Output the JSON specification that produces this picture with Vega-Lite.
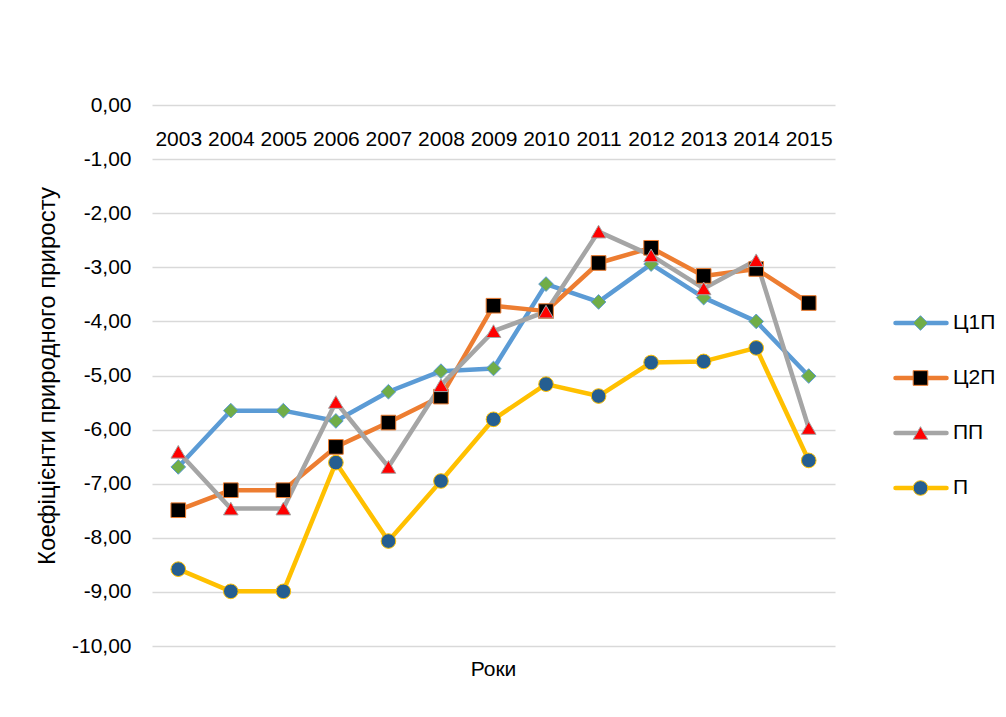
{
  "$schema": "https://vega.github.io/schema/vega-lite/v6.json",
  "autosize": {"type": "none"},
  "padding": {"left": 152, "top": 105, "right": 171, "bottom": 71},
  "width": 683,
  "height": 541,
  "background": "white",
  "config": {
    "view": {"stroke": null},
    "font": "Liberation Sans",
    "axis": {"labelFont": "Liberation Sans", "labelFontSize": 21, "labelColor": "#000000", "titleFont": "Liberation Sans", "titleFontSize": 24, "titleFontWeight": "normal", "titleColor": "#000000"},
    "legend": {"labelFont": "Liberation Sans", "labelFontSize": 21, "labelColor": "#000000"}
  },
  "title": {"text": "Роки", "orient": "bottom", "anchor": "middle", "font": "Liberation Sans", "fontSize": 21, "fontWeight": "normal", "color": "#000000", "offset": 3},
  "data": {
    "values": [
      {"year": "2003", "series": "Ц1П", "value": -6.69},
      {"year": "2004", "series": "Ц1П", "value": -5.65},
      {"year": "2005", "series": "Ц1П", "value": -5.65},
      {"year": "2006", "series": "Ц1П", "value": -5.84},
      {"year": "2007", "series": "Ц1П", "value": -5.30},
      {"year": "2008", "series": "Ц1П", "value": -4.92},
      {"year": "2009", "series": "Ц1П", "value": -4.87},
      {"year": "2010", "series": "Ц1П", "value": -3.31},
      {"year": "2011", "series": "Ц1П", "value": -3.64},
      {"year": "2012", "series": "Ц1П", "value": -2.94},
      {"year": "2013", "series": "Ц1П", "value": -3.56},
      {"year": "2014", "series": "Ц1П", "value": -4.00},
      {"year": "2015", "series": "Ц1П", "value": -5.01},
      {"year": "2003", "series": "Ц2П", "value": -7.49},
      {"year": "2004", "series": "Ц2П", "value": -7.12},
      {"year": "2005", "series": "Ц2П", "value": -7.12},
      {"year": "2006", "series": "Ц2П", "value": -6.32},
      {"year": "2007", "series": "Ц2П", "value": -5.87},
      {"year": "2008", "series": "Ц2П", "value": -5.39},
      {"year": "2009", "series": "Ц2П", "value": -3.71},
      {"year": "2010", "series": "Ц2П", "value": -3.81},
      {"year": "2011", "series": "Ц2П", "value": -2.92},
      {"year": "2012", "series": "Ц2П", "value": -2.64},
      {"year": "2013", "series": "Ц2П", "value": -3.16},
      {"year": "2014", "series": "Ц2П", "value": -3.03},
      {"year": "2015", "series": "Ц2П", "value": -3.66},
      {"year": "2003", "series": "ПП", "value": -6.41},
      {"year": "2004", "series": "ПП", "value": -7.46},
      {"year": "2005", "series": "ПП", "value": -7.46},
      {"year": "2006", "series": "ПП", "value": -5.49},
      {"year": "2007", "series": "ПП", "value": -6.69},
      {"year": "2008", "series": "ПП", "value": -5.18},
      {"year": "2009", "series": "ПП", "value": -4.18},
      {"year": "2010", "series": "ПП", "value": -3.82},
      {"year": "2011", "series": "ПП", "value": -2.34},
      {"year": "2012", "series": "ПП", "value": -2.78},
      {"year": "2013", "series": "ПП", "value": -3.39},
      {"year": "2014", "series": "ПП", "value": -2.87},
      {"year": "2015", "series": "ПП", "value": -5.97},
      {"year": "2003", "series": "П", "value": -8.58},
      {"year": "2004", "series": "П", "value": -8.99},
      {"year": "2005", "series": "П", "value": -8.99},
      {"year": "2006", "series": "П", "value": -6.61},
      {"year": "2007", "series": "П", "value": -8.06},
      {"year": "2008", "series": "П", "value": -6.95},
      {"year": "2009", "series": "П", "value": -5.81},
      {"year": "2010", "series": "П", "value": -5.16},
      {"year": "2011", "series": "П", "value": -5.38},
      {"year": "2012", "series": "П", "value": -4.76},
      {"year": "2013", "series": "П", "value": -4.74},
      {"year": "2014", "series": "П", "value": -4.49},
      {"year": "2015", "series": "П", "value": -6.57}
    ]
  },
  "encoding": {
    "x": {
      "field": "year", "type": "ordinal",
      "scale": {"type": "point", "padding": 0.5},
      "axis": {"orient": "bottom", "offset": -541, "domain": false, "ticks": false, "tickSize": 0, "grid": false, "labelAngle": 0, "labelPadding": 23, "title": null}
    },
    "y": {
      "field": "value", "type": "quantitative",
      "scale": {"domain": [-10, 0], "nice": false, "zero": false},
      "axis": {
        "values": [0, -1, -2, -3, -4, -5, -6, -7, -8, -9, -10],
        "labelExpr": "replace(replace(format(datum.value, '.2f'), '.', ','), '\u2212', '-')",
        "domain": false, "ticks": false, "tickSize": 0, "labelPadding": 21,
        "grid": true, "gridColor": "#d9d9d9", "gridWidth": 1.3,
        "title": "Коефіцієнти природного приросту", "titlePadding": 12
      }
    }
  },
  "layer": [
    {
      "mark": {"type": "line", "strokeWidth": 4.5, "strokeJoin": "round", "strokeCap": "round"},
      "encoding": {
        "color": {
          "field": "series", "type": "nominal", "sort": ["Ц1П", "Ц2П", "ПП", "П"],
          "scale": {"range": ["#5b9bd5", "#ed7d31", "#a5a5a5", "#ffc000"]},
          "legend": {
            "orient": "none", "legendX": 741, "legendY": 190.75, "title": null,
            "symbolType": "stroke", "symbolSize": 2601, "symbolStrokeWidth": 4.5,
            "clipHeight": 54.5, "rowPadding": 0, "padding": 0, "labelOffset": 4,
            "encode": {"symbols": {"update": {"strokeCap": {"value": "round"}}}}
          }
        }
      }
    },
    {
      "mark": {"type": "point", "filled": true, "opacity": 1, "size": 215, "strokeWidth": 1},
      "encoding": {
        "shape": {
          "field": "series", "type": "nominal",
          "scale": {"domain": ["Ц1П", "Ц2П", "ПП", "П"], "range": ["diamond", "square", "triangle-up", "circle"]},
          "legend": {"orient": "none", "legendX": 758, "legendY": 190.75, "title": null, "symbolSize": 215, "symbolStrokeWidth": 1, "clipHeight": 54.5, "rowPadding": 0, "padding": 0, "labelExpr": "''"}
        },
        "fill": {
          "field": "series", "type": "nominal",
          "scale": {"domain": ["Ц1П", "Ц2П", "ПП", "П"], "range": ["#70ad47", "#000000", "#ff0000", "#255e91"]},
          "legend": {"orient": "none", "legendX": 758, "legendY": 190.75, "title": null, "symbolSize": 215, "symbolStrokeWidth": 1, "clipHeight": 54.5, "rowPadding": 0, "padding": 0, "labelExpr": "''"}
        },
        "stroke": {
          "field": "series", "type": "nominal",
          "scale": {"domain": ["Ц1П", "Ц2П", "ПП", "П"], "range": ["#5b9bd5", "#ed7d31", "#a5a5a5", "#ffc000"]},
          "legend": {"orient": "none", "legendX": 758, "legendY": 190.75, "title": null, "symbolSize": 215, "symbolStrokeWidth": 1, "clipHeight": 54.5, "rowPadding": 0, "padding": 0, "labelExpr": "''"}
        }
      }
    }
  ]
}
